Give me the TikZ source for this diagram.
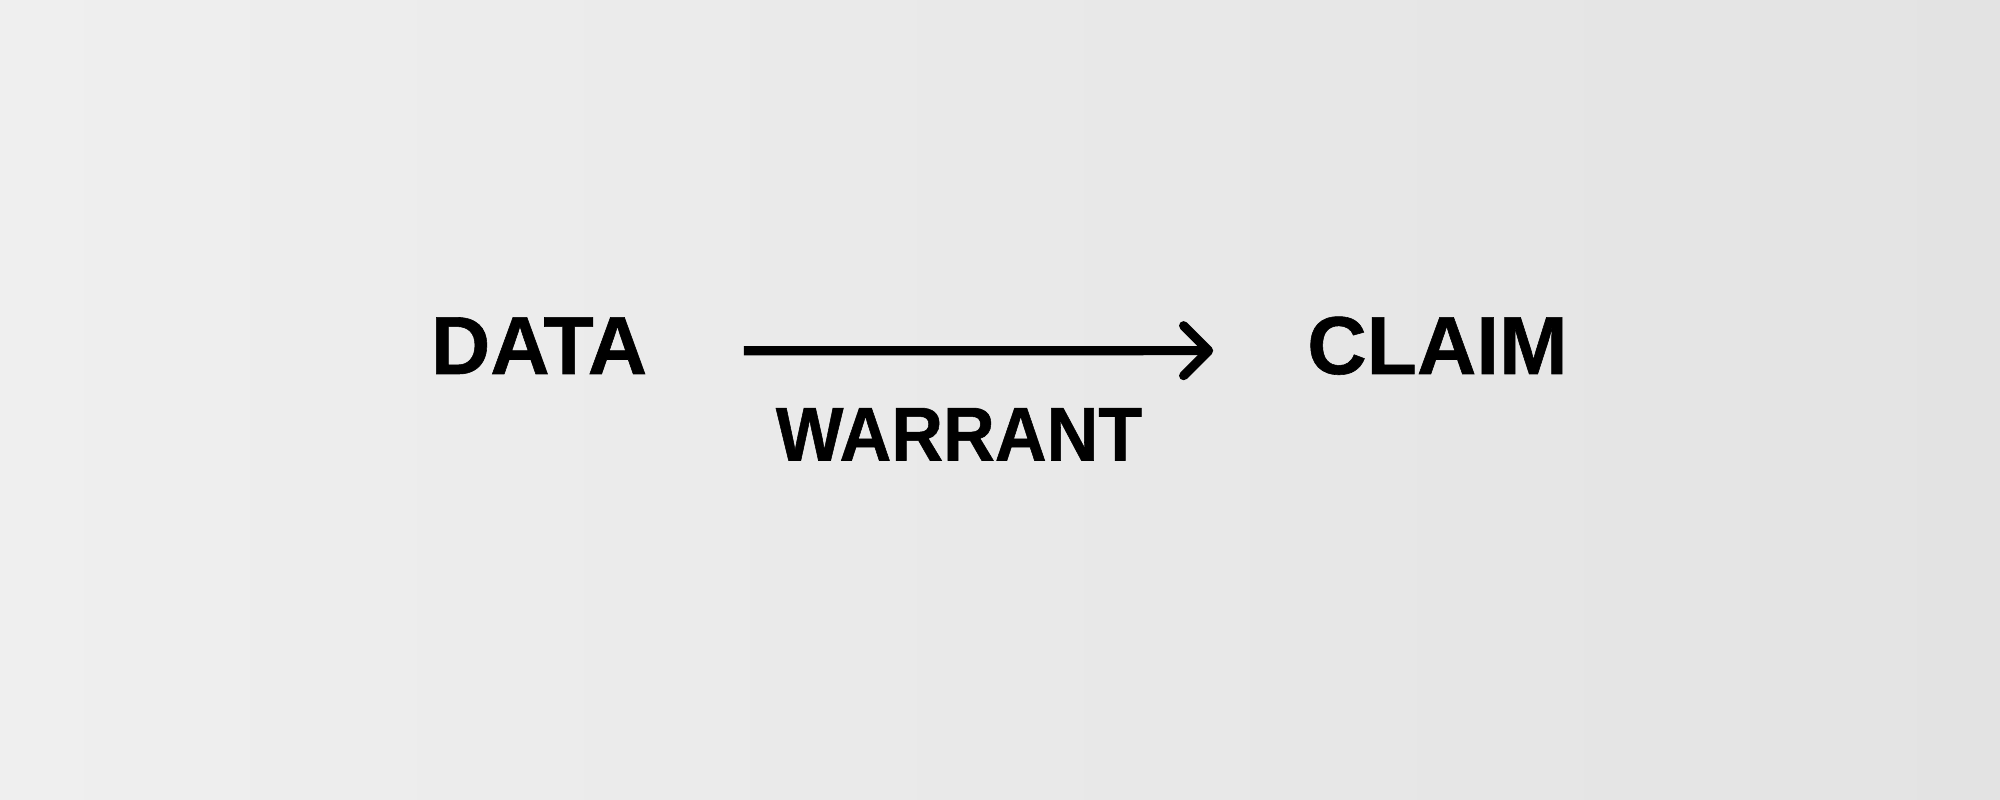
\documentclass[tikz,border=0pt]{standalone}
\usepackage{fontspec}
\setmainfont{Liberation Sans}[FakeBold=0.7]
\newfontfamily\narrowfont{Liberation Sans}[FakeStretch=0.94,FakeBold=0.7]
\definecolor{bgleft}{HTML}{EFEFEF}
\definecolor{bgright}{HTML}{E3E3E3}

\begin{document}
\begin{tikzpicture}[
        big/.style={font=\fontsize{23.4}{28}\selectfont\bfseries,inner sep=0pt,anchor=base},
        small/.style={font=\narrowfont\fontsize{21.7}{26}\selectfont\bfseries,inner sep=0pt,anchor=base},
        link/.style={line width=2.6pt,shorten >=0.05cm},
        barb/.style={line width=2.6pt,line cap=round,line join=round}]

    \shade[left color=bgleft,right color=bgright] (0,0) rectangle (20,8);

    \node[big] (data) at (5.39,4.26) {DATA};
    \node[big] (claim) at (14.375,4.26) {CLAIM};
    \node[small] (warrant) at (9.59,3.395) {WARRANT};

    \coordinate (tail) at ([xshift=0.96cm,yshift=-0.05cm]data.east);
    \coordinate (tip) at ([xshift=-0.98cm,yshift=-0.05cm]claim.west);
    \draw[link] (tail) -- (tip);
    \draw[barb] ([shift={(-0.25,0.25)}]tip) -- (tip) -- ([shift={(-0.25,-0.25)}]tip);
\end{tikzpicture}
\end{document}
